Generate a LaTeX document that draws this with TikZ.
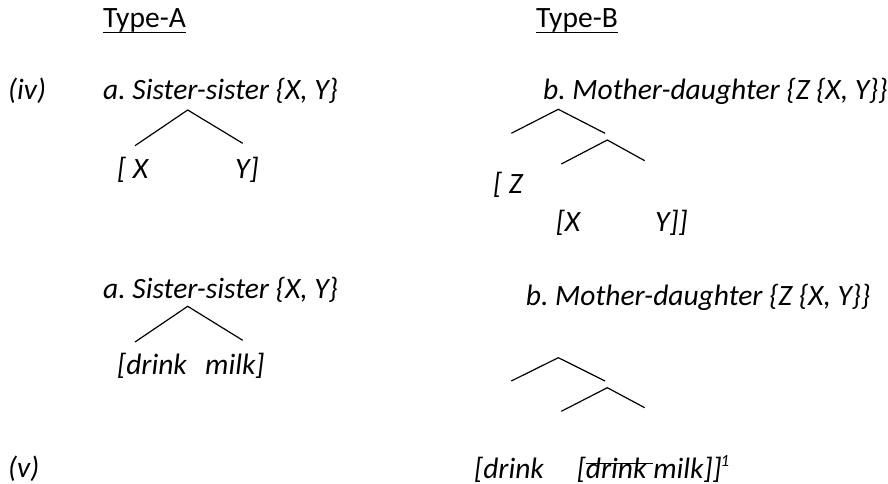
\documentclass[tikz,border=0pt]{standalone}
\usepackage{fontspec}
\setmainfont{Carlito}
\frenchspacing
\newsavebox\strkbox
\newcommand{\mystrike}[1]{\sbox\strkbox{#1}\rlap{\rule[14pt]{\wd\strkbox}{1.1pt}}\usebox\strkbox}
\begin{document}
\begin{tikzpicture}[x=1pt,y=-1pt,
  txt/.style={inner sep=0pt, anchor=base west, font=\fontsize{29.5}{35}\selectfont\itshape},
  hdr/.style={inner sep=0pt, anchor=base west, font=\fontsize{29.5}{35}\selectfont},
  branch/.style={line width=1.2pt},
  uline/.style={line width=1.4pt}]
\useasboundingbox (0,0) rectangle (888,484);
% headers
\node[hdr] (typeA) at (103,27.7) {Type-A};
\node[hdr] (typeB) at (536,27.7) {Type-B};
\draw[uline] ([yshift=-5pt]typeA.base west) -- ([yshift=-5pt]typeA.base east);
\draw[uline] ([yshift=-5pt]typeB.base west) -- ([yshift=-5pt]typeB.base east);
% (iv)
\node[txt] (iv) at (8,99.3) {(iv)};
\node[txt] (a1) at (103,99.3) {a. Sister-sister \{X, Y\}};
\node[txt] (b1) at (543,99.3) {b. Mother-daughter \{Z \{X, Y\}\}};
\node[txt] (x1) at (117,178.3) {[ X};
\node[txt] (y1) at (235,178.3) {Y]};
\node[txt] (z2) at (493,193.3) {[ Z};
\node[txt] (x2) at (555.7,231.7) {[X};
\node[txt] (y2) at (655,231.7) {Y]]};
% tree a (top)
\coordinate (ta) at (187.7,110);
\coordinate (tal) at (135,145.7);
\coordinate (tar) at (242.7,143.3);
\draw[branch] (tal) -- (ta) -- (tar);
% tree b (top)
\coordinate (tb) at (558.3,109.3);
\coordinate (tbl) at (511.3,133.3);
\coordinate (tbr) at (605,133.3);
\coordinate (tb2) at (607.3,140);
\coordinate (tb2l) at (561.3,164);
\coordinate (tb2r) at (644.7,160.7);
\draw[branch] (tbl) -- (tb) -- (tbr);
\draw[branch] (tb2l) -- (tb2) -- (tb2r);
% second row
\node[txt] (a2) at (103,298) {a. Sister-sister \{X, Y\}};
\node[txt] (b2) at (525.7,305) {b. Mother-daughter \{Z \{X, Y\}\}};
\node[txt] (dk) at (117,374) {[drink};
\node[txt] (mk) at (205,374) {milk]};
\coordinate (ua) at (187.7,306.3);
\coordinate (ual) at (135,342);
\coordinate (uar) at (242.7,340.3);
\draw[branch] (ual) -- (ua) -- (uar);
\coordinate (ub) at (558.3,357.7);
\coordinate (ubl) at (511.3,381);
\coordinate (ubr) at (605,381);
\coordinate (ub2) at (607.3,387.7);
\coordinate (ub2l) at (561.3,411.3);
\coordinate (ub2r) at (644.7,407.7);
\draw[branch] (ubl) -- (ub) -- (ubr);
\draw[branch] (ub2l) -- (ub2) -- (ub2r);
% (v)
\node[txt] (v) at (8,477) {(v)};
\node[txt] (d1) at (474,478) {[drink};
\node[txt] (d2) at (576.7,478) {[\mystrike{drink }milk]]\kern-1pt\raisebox{12pt}{\fontsize{17}{17}\selectfont 1}};
\end{tikzpicture}
\end{document}
